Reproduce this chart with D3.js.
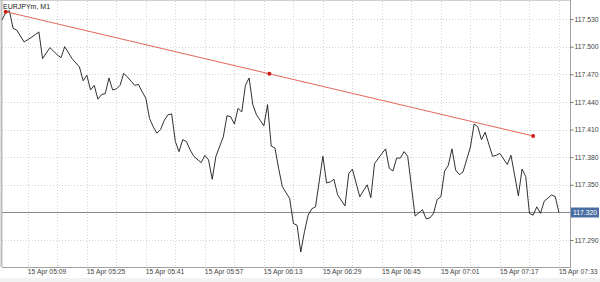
<!DOCTYPE html>
<html>
<head>
<meta charset="utf-8">
<script src="https://cdn.jsdelivr.net/npm/d3@7"></script>
<style>
  body { margin: 0; background: #fff; }
  svg { display: block; font-family: "Liberation Sans", Arial, sans-serif; }
</style>
</head>
<body>
<svg id="chart"></svg>
<script>
// EURJPYm M1 closes, 15 Apr
const times = ["05:02","05:03","05:04","05:05","05:06","05:08","05:11","05:12","05:13","05:15",
  "05:17","05:18","05:19","05:21","05:23","05:24","05:25","05:26","05:27","05:28",
  "05:29","05:30","05:31","05:32","05:33","05:34","05:35","05:36","05:38","05:39",
  "05:40","05:41","05:42","05:43","05:44","05:45","05:46","05:47","05:48","05:49",
  "05:50","05:51","05:52","05:53","05:54","05:56","05:57","05:58","05:59","06:00",
  "06:02","06:03","06:04","06:05","06:06","06:07","06:08","06:09","06:10","06:11",
  "06:12","06:13","06:14","06:15","06:16","06:17","06:18","06:20","06:21","06:22",
  "06:23","06:24","06:25","06:26","06:27","06:29","06:30","06:31","06:32","06:33",
  "06:35","06:36","06:37","06:39","06:41","06:42","06:43","06:45","06:46","06:47",
  "06:48","06:49","06:50","06:51","06:52","06:54","06:56","06:57","06:58","06:59",
  "07:00","07:01","07:02","07:03","07:04","07:05","07:06","07:07","07:09","07:10",
  "07:11","07:12","07:13","07:15","07:16","07:17","07:19","07:20","07:22","07:23",
  "07:24","07:25","07:26","07:27","07:28","07:29","07:31","07:32","07:33"];
const closes = [117.529,117.537,117.539,117.520,117.518,117.505,117.513,117.516,117.487,117.499,
  117.491,117.488,117.500,117.487,117.478,117.463,117.469,117.453,117.458,117.443,
  117.448,117.449,117.466,117.453,117.454,117.458,117.471,117.467,117.458,117.459,
  117.451,117.444,117.422,117.413,117.406,117.410,117.420,117.426,117.427,117.397,
  117.386,117.399,117.397,117.388,117.381,117.374,117.382,117.377,117.356,117.381,
  117.402,117.425,117.424,117.416,117.433,117.429,117.458,117.466,117.437,117.426,
  117.420,117.414,117.437,117.392,117.390,117.368,117.348,117.335,117.308,117.306,
  117.277,117.299,117.317,117.324,117.326,117.381,117.352,117.353,117.356,117.339,
  117.327,117.362,117.367,117.337,117.350,117.336,117.373,117.384,117.389,117.368,
  117.365,117.379,117.379,117.386,117.381,117.316,117.323,117.313,117.314,117.319,
  117.334,117.337,117.365,117.371,117.389,117.366,117.361,117.364,117.391,117.416,
  117.413,117.399,117.407,117.381,117.382,117.384,117.372,117.382,117.338,117.367,
  117.359,117.319,117.317,117.326,117.319,117.332,117.339,117.337,117.320];

const trendTimes = ["05:03", "07:26"];
const trendPrices = [117.538, 117.403];

const currentPrice = 117.320;
const priceTicks = [117.290, 117.320, 117.350, 117.380, 117.410, 117.440, 117.470, 117.500, 117.530];
const timeLabels = ["05:09","05:25","05:41","05:57","06:13","06:29","06:45","07:01","07:17","07:33"];
const gridTimes = ["05:09","05:17","05:25","05:33","05:41","05:49","05:57","06:05","06:13","06:21",
  "06:29","06:37","06:45","06:53","07:01","07:09","07:17","07:25","07:33"];
const viewRange = ["05:02", "07:36"];
const priceRange = [117.2607, 117.5496];

const W = 600, H = 282;
const plot = { left: 2, right: 570, top: 1, bottom: 267 };

const parse = d3.timeParse("%Y-%m-%d %H:%M");
const t = s => parse("2020-04-15 " + s);

const svg = d3.select("#chart").attr("width", W).attr("height", H);

const x = d3.scaleTime()
    .domain(viewRange.map(t))
    .range([plot.left, plot.right]);
const y = d3.scaleLinear()
    .domain(priceRange)
    .range([plot.bottom, plot.top]);

svg.append("rect").attr("width", W).attr("height", H).attr("fill", "#fff");
svg.append("rect").attr("x", 0).attr("y", 278).attr("width", W).attr("height", 4).attr("fill", "#f2f2f2");

// grid
const grid = svg.append("g").attr("stroke", "#d4d4d4").attr("stroke-dasharray", "1,2").attr("stroke-width", 1);
grid.selectAll("line.h").data(priceTicks).enter().append("line")
    .attr("x1", plot.left).attr("x2", plot.right)
    .attr("y1", d => Math.round(y(d)) + 0.5).attr("y2", d => Math.round(y(d)) + 0.5);
grid.selectAll("line.v").data(gridTimes).enter().append("line")
    .attr("x1", d => Math.round(x(t(d))) + 0.5).attr("x2", d => Math.round(x(t(d))) + 0.5)
    .attr("y1", plot.top).attr("y2", plot.bottom);

// frame
svg.append("line").attr("x1", 0).attr("x2", plot.right).attr("y1", 0.5).attr("y2", 0.5).attr("stroke", "#d0d0d0");
svg.append("line").attr("x1", 1.5).attr("x2", 1.5).attr("y1", 0).attr("y2", plot.bottom).attr("stroke", "#bdbdbd").attr("stroke-width", 2);
svg.append("line").attr("x1", plot.left).attr("x2", plot.right).attr("y1", plot.bottom + 0.5).attr("y2", plot.bottom + 0.5).attr("stroke", "#a0a0a0");
svg.append("line").attr("x1", plot.right + 0.5).attr("x2", plot.right + 0.5).attr("y1", 0).attr("y2", plot.bottom + 1).attr("stroke", "#a0a0a0");

// axes
const yAxis = d3.axisRight(y)
    .tickValues(priceTicks)
    .tickFormat(d3.format(".3f"))
    .tickSize(3).tickPadding(1);
const ya = svg.append("g").attr("transform", `translate(${plot.right + 0.5},0)`).call(yAxis);
ya.select(".domain").remove();
ya.selectAll("line").attr("stroke", "#777");
ya.selectAll("text").attr("fill", "#444").attr("font-size", "6.8px")
    .attr("font-family", "Liberation Sans, Arial, sans-serif");

const xAxis = d3.axisBottom(x)
    .tickValues(timeLabels.map(t))
    .tickFormat(d3.timeFormat("15 Apr %H:%M"))
    .tickSize(3).tickPadding(0);
const xa = svg.append("g").attr("transform", `translate(0,${plot.bottom + 0.5})`).call(xAxis);
xa.select(".domain").remove();
xa.selectAll("line").attr("stroke", "#c8c8c8").attr("stroke-dasharray", "1,1");
xa.selectAll("text").attr("fill", "#444").attr("font-size", "6.8px")
    .attr("font-family", "Liberation Sans, Arial, sans-serif")
    .attr("text-anchor", "start").attr("dx", "-0.5").attr("dy", "0.45em");

// current price line
svg.append("line")
    .attr("x1", plot.left).attr("x2", plot.right)
    .attr("y1", Math.round(y(currentPrice)) + 0.5).attr("y2", Math.round(y(currentPrice)) + 0.5)
    .attr("stroke", "#8c8c8c");

// price series
const series = times.map((d, i) => [t(d), closes[i]]);
svg.append("path")
    .datum(series)
    .attr("fill", "none")
    .attr("stroke", "#1a1a1a")
    .attr("stroke-width", 0.9)
    .attr("stroke-linejoin", "round")
    .attr("d", d3.line().x(d => x(d[0])).y(d => y(d[1])));

// trendline
const trend = trendTimes.map((d, i) => [t(d), trendPrices[i]]);
svg.append("path")
    .datum(trend)
    .attr("fill", "none")
    .attr("stroke", "#e2675c")
    .attr("stroke-width", 1)
    .attr("d", d3.line().x(d => x(d[0])).y(d => y(d[1])));
const mid = [new Date((+trend[0][0] + +trend[1][0]) / 2), (trend[0][1] + trend[1][1]) / 2];
svg.selectAll("circle.handle").data([trend[0], mid, trend[1]]).enter().append("circle")
    .attr("cx", d => x(d[0])).attr("cy", d => y(d[1])).attr("r", 2)
    .attr("fill", "#d01c12");

// current price tag
const cy = Math.round(y(currentPrice)) + 0.5;
svg.append("rect")
    .attr("x", plot.right + 1).attr("y", cy - 5).attr("width", 28).attr("height", 10)
    .attr("fill", "#4a6ea3");
svg.append("text")
    .attr("x", plot.right + 3).attr("y", cy).attr("dy", "0.35em")
    .attr("fill", "#fff").attr("font-size", "6.8px")
    .text(d3.format(".3f")(currentPrice));

// title
svg.append("text").attr("x", 3).attr("y", 9)
    .attr("fill", "#222").attr("font-size", "7px")
    .text("EURJPYm, M1");
</script>
</body>
</html>
